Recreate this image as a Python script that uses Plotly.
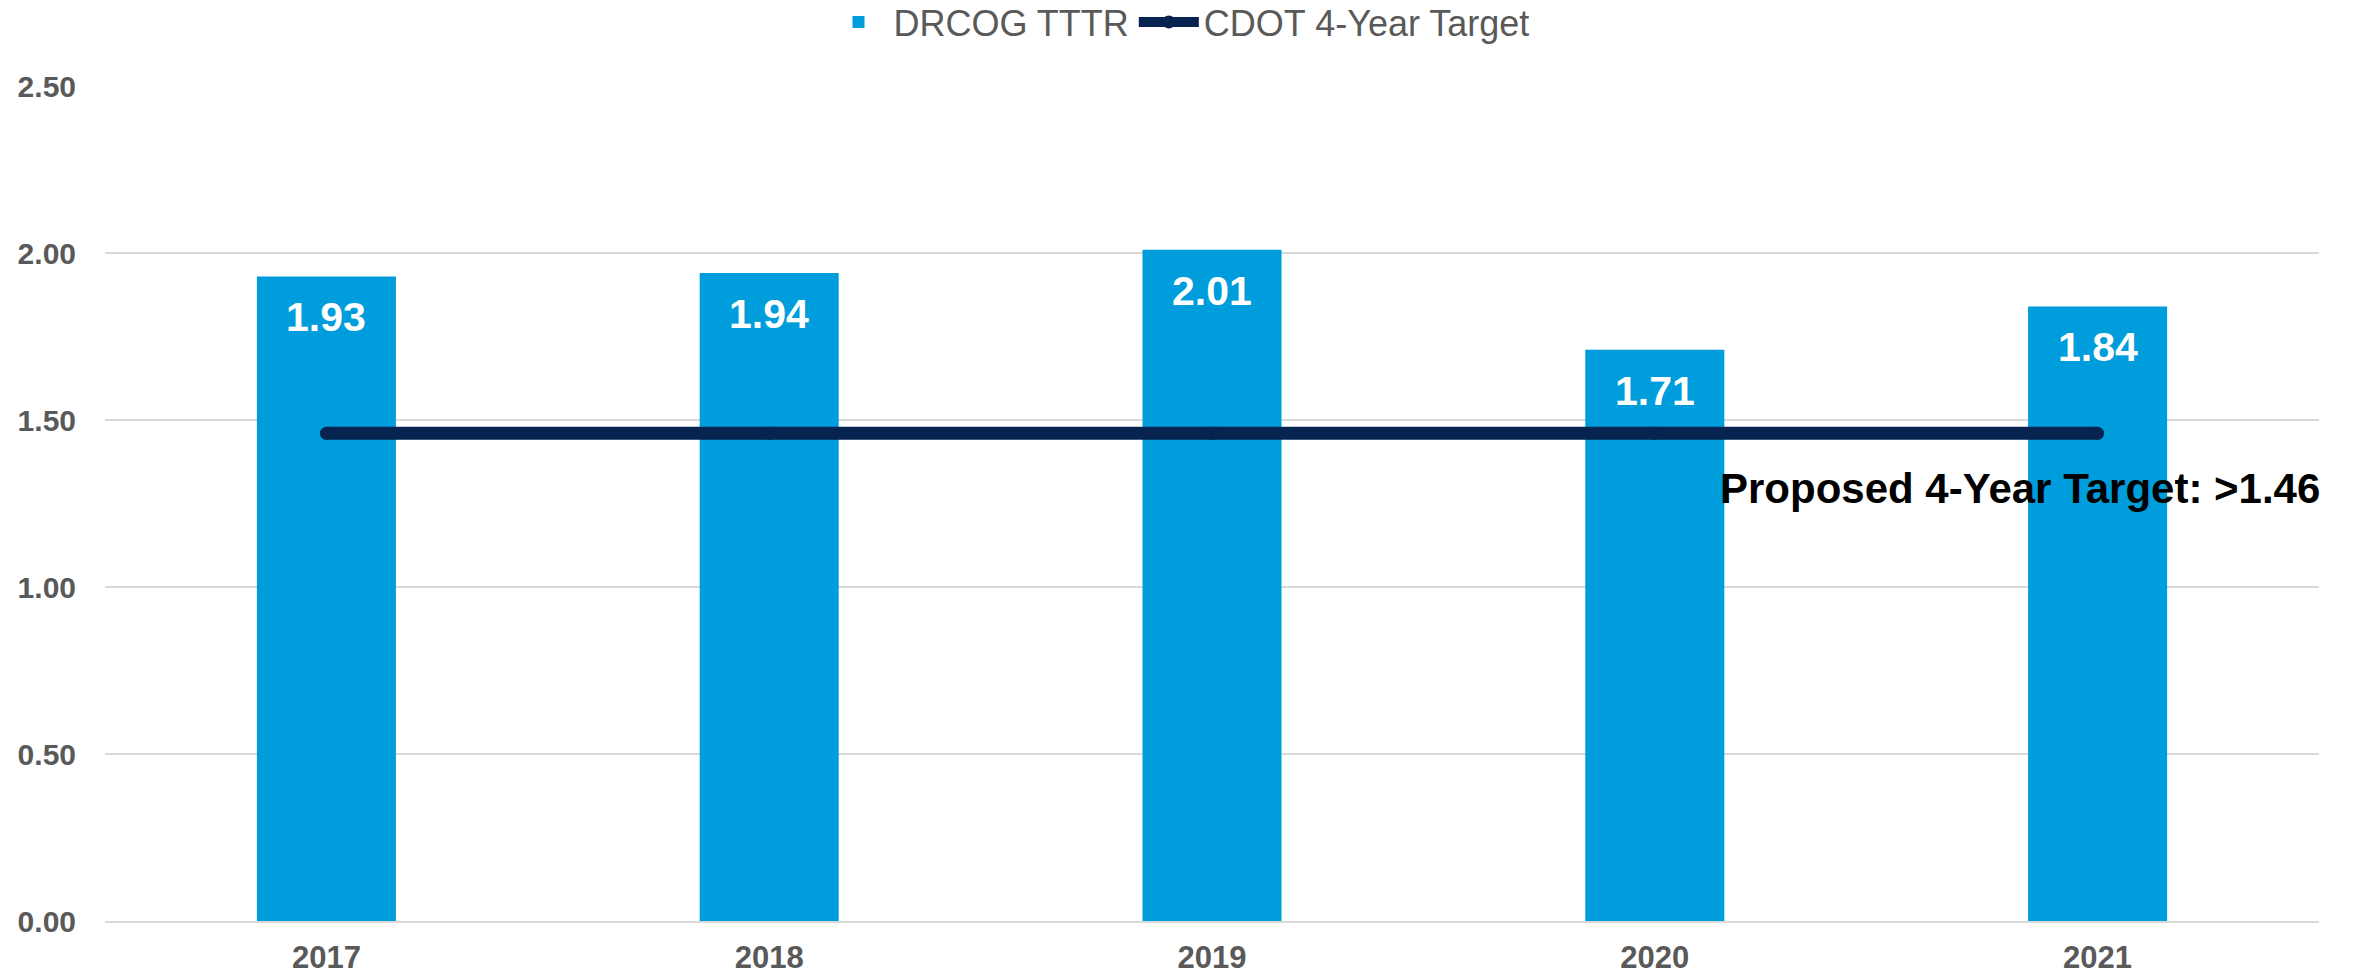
import plotly.graph_objects as go

# Travel time reliability by year and the statewide target
years = ["2017", "2018", "2019", "2020", "2021"]
tttr_values = [1.93, 1.94, 2.01, 1.71, 1.84]
target_values = [1.46, 1.46, 1.46, 1.46, 1.46]
target_label = "Proposed 4-Year Target: >1.46"
y_ticks = [0, 0.5, 1.0, 1.5, 2.0, 2.5]

FONT = "Arial, 'Liberation Sans', sans-serif"
GREY = "#595959"
BAR_BLUE = "#009ddc"
NAVY = "#06244f"

x_pos = list(range(len(years)))

fig = go.Figure()

fig.add_trace(go.Bar(
    x=x_pos,
    y=tttr_values,
    name="DRCOG TTTR",
    width=0.314,
    marker=dict(color=BAR_BLUE, line=dict(width=0)),
    hoverinfo="skip",
))

fig.add_trace(go.Scatter(
    x=x_pos,
    y=target_values,
    name="CDOT 4-Year Target",
    mode="lines+markers",
    line=dict(color=NAVY, width=13),
    marker=dict(color=NAVY, size=13, line=dict(width=0)),
    hoverinfo="skip",
))

# White value labels just below the top of each bar
for xp, val in zip(x_pos, tttr_values):
    fig.add_annotation(
        x=xp, y=val, text=f"<b>{val:.2f}</b>",
        showarrow=False, yanchor="top", yshift=-16,
        font=dict(family=FONT, size=41, color="white"),
    )

# Target note under the right end of the line
fig.add_annotation(
    x=3.825, y=target_values[-1], text=f"<b>{target_label}</b>",
    showarrow=False, xanchor="center", yanchor="middle", yshift=-55,
    font=dict(family=FONT, size=42, color="black"),
)

fig.update_layout(
    width=2358, height=976,
    margin=dict(l=105, r=39, t=86, b=55, autoexpand=False),
    paper_bgcolor="white", plot_bgcolor="white",
    font=dict(family=FONT, color=GREY),
    showlegend=True,
    legend=dict(
        orientation="h", xref="container", x=0.5, xanchor="center",
        yref="container", y=1 - 22 / 976, yanchor="middle",
        font=dict(family=FONT, size=36, color=GREY),
        itemwidth=60,
    ),
    xaxis=dict(
        range=[-0.5, len(years) - 0.5],
        tickvals=x_pos, ticktext=years,
        showgrid=False, zeroline=False, automargin=False,
        showline=True, linecolor="#d9d9d9", linewidth=2,
        ticks="", ticklabelstandoff=8,
        tickfont=dict(family=FONT, size=31, color=GREY, weight="bold"),
    ),
    yaxis=dict(
        range=[0, 2.5], tickvals=y_ticks, tickformat=".2f",
        showgrid=True, gridcolor="#d9d9d9", gridwidth=1.5,
        zeroline=False, showline=False, automargin=False,
        ticks="", ticklabelstandoff=28,
        tickfont=dict(family=FONT, size=30, color=GREY, weight="bold"),
    ),
)

fig.write_html("out.html")
